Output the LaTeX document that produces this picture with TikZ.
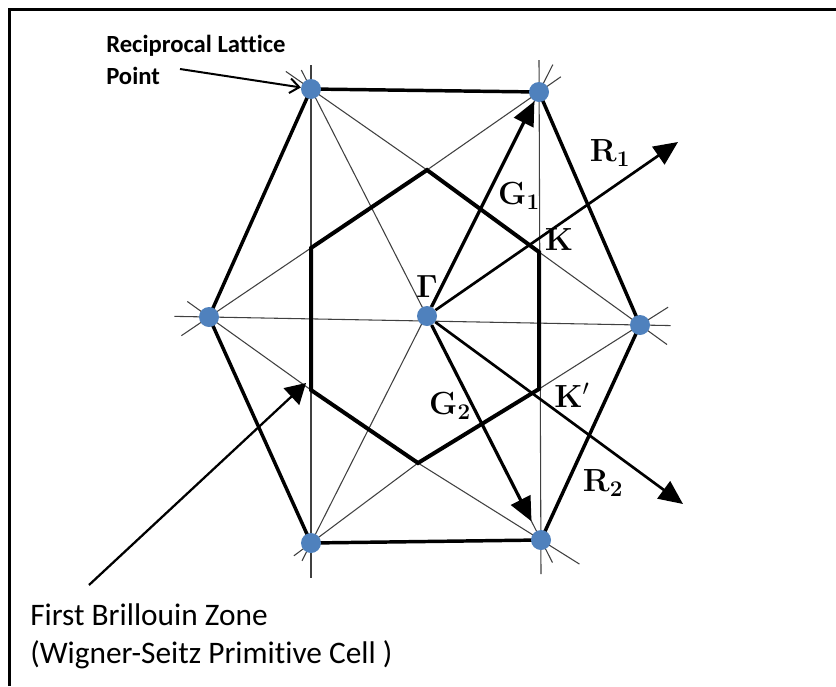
\documentclass[tikz,border=0pt]{standalone}
\usepackage{fix-cm}
\usepackage[no-math]{fontspec}
\setmainfont{Carlito}[Ligatures=NoCommon]
\usepackage{tikz}
\usetikzlibrary{arrows.meta,calc,backgrounds}
\definecolor{latblue}{HTML}{4F81BD}
\tikzset{
  latpt/.style={circle,fill=latblue,inner sep=0pt,minimum size=15pt},
  guide/.style={draw=black!75,line width=0.8pt},
  hexedge/.style={draw=black,line width=2.6pt,line join=round},
  zone/.style={draw=black,line width=3pt,line join=miter},
  vec/.style={-{Triangle[length=18pt,width=16pt]},line width=#1},
  vec/.default=2.4pt,
  pointer/.style={line width=1.5pt,-{Straight Barb[length=7pt,width=11pt]}},
  sym/.style={font=\fontsize{24}{28}\selectfont,inner sep=0pt},
  note/.style={align=left,anchor=north west,inner sep=0pt},
}

\begin{document}
\begin{tikzpicture}[x=0.75pt,y=-0.75pt]
  \useasboundingbox (0,0) rectangle (836,686);
  \draw[line width=2.5pt] (9.5,686) -- (9.5,9.5) -- (836,9.5);

  \node[latpt] (TL) at (311,89)  {};
  \node[latpt] (TR) at (539,92)  {};
  \node[latpt] (L)  at (209,317) {};
  \node[latpt] (C)  at (427,316) {};
  \node[latpt] (R)  at (640,325) {};
  \node[latpt] (BL) at (311,543) {};
  \node[latpt] (BR) at (541,540) {};
  \coordinate (V1) at (311,248);  \coordinate (V2) at (427,170);
  \coordinate (V3) at (539,252);  \coordinate (V4) at (539,389);
  \coordinate (V5) at (418,463);  \coordinate (V6) at (311,390);

  \begin{scope}[on background layer]
    \draw[guide] ($(TL)+(0,-24)$) -- ($(BL)+(0,35)$);
    \draw[guide] ($(TR)+(0,-32)$) -- ($(BR)+(0,34)$);
    \draw[guide] ($(TL)!-16pt!(BR)$) -- ($(BR)!-19pt!(TL)$);
    \draw[guide] ($(TR)!-23pt!(BL)$) -- ($(BL)!-15pt!(TR)$);
    \draw[guide] ($(L)!-26pt!(R)$) -- ($(R)!-23pt!(L)$);
    \draw[guide] ($(TL)!-23pt!(V2)$) -- (V2) -- (V3) -- (R.center) -- ($(R)!-25pt!(V3)$);
    \draw[guide] ($(L)!-25pt!(V1)$) -- (V1) -- (V2) -- (TR.center) -- ($(TR)!-20pt!(V2)$);
    \draw[guide] ($(L)!-20pt!(V6)$) -- (V6) -- (V5) -- (BR.center) -- ($(BR)!-34pt!(V5)$);
    \draw[guide] ($(BL)!-16pt!(V5)$) -- (V5) -- (V4) -- (R.center) -- ($(R)!-25pt!(V4)$);
    \draw[hexedge] (TL.center) -- (TR.center) -- (R.center) -- (BR.center) -- (BL.center) -- (L.center) -- cycle;
    \draw[zone] (V1) -- (V2) -- (V3) -- (V4) -- (V5) -- (V6) -- cycle;
  \end{scope}

  \coordinate (r1tip) at (678,142);
  \coordinate (r2tip) at (683,504);
  \draw[vec] (C) -- (TR);
  \draw[vec,shorten >=8pt] (C) -- (BR);
  \draw[vec=2pt] (C) -- (r1tip);
  \draw[vec=2pt] (C) -- (r2tip);

  \node[sym] (gam) at (427,287) {$\mathbf{\Gamma}$};
  \node[sym] (g1)  at (519,196) {$\mathbf{G}_{\mathbf{1}}$};
  \node[sym] (k)   at (559,240) {$\mathbf{K}$};
  \node[sym] (r1)  at (610,153) {$\mathbf{R}_{\mathbf{1}}$};
  \node[sym] (g2)  at (450,406) {$\mathbf{G}_{\mathbf{2}}$};
  \node[sym] (kp)  at (572,395) {$\mathbf{K}'$};
  \node[sym] (r2)  at (603,483) {$\mathbf{R}_{\mathbf{2}}$};

  \node[note,font=\bfseries\fontsize{18.5}{24}\selectfont] (rlp) at (106,35) {Reciprocal Lattice\\Point};
  \coordinate (rlptail) at (180,69);
  \draw[pointer] (rlptail) -- (TL);
  \node[note,font=\fontsize{23.5}{29}\selectfont] (bz) at (30,603) {First Brillouin Zone\\(Wigner-Seitz Primitive Cell )};
  \coordinate (bztail) at (89,585);
  \coordinate (bztip) at (306,383);
  \draw[line width=1.7pt,-{Triangle[length=15pt,width=17pt]}] (bztail) -- (bztip);
\end{tikzpicture}
\end{document}
